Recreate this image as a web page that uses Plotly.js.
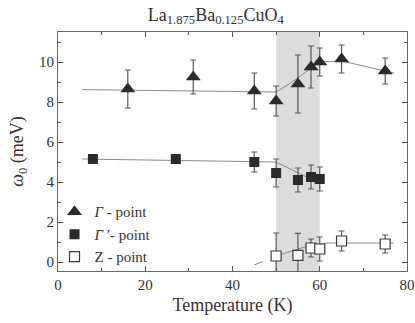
<!DOCTYPE html>
<html>
<head>
<meta charset="utf-8">
<script src="https://cdn.plot.ly/plotly-3.0.1.min.js"></script>
<style>
  body { margin: 0; background: #fff; }
  #chart { width: 415px; height: 323px; }
</style>
</head>
<body>
<div id="chart"></div>
<script>
// Gamma point (triangles)
const gammaT = [16, 31, 45, 50, 55, 58, 60, 65, 75];
const gammaW = [8.65, 9.25, 8.55, 8.05, 8.9, 9.75, 10.0, 10.15, 9.55];
const gammaErr = [0.95, 0.85, 0.9, 0.75, 1.45, 1.05, 0.7, 0.7, 0.65];
const gammaFitT = [5.5, 50, 53, 58, 60, 65, 77];
const gammaFitW = [8.62, 8.5, 8.9, 9.7, 10.0, 10.05, 9.45];

// Gamma' point (filled squares)
const gamma2T = [8, 27, 45, 50, 55, 58, 60];
const gamma2W = [5.15, 5.15, 5.0, 4.45, 4.1, 4.25, 4.15];
const gamma2Err = [0, 0, 0.5, 0.7, 0.6, 0.6, 0.6];
const gamma2FitT = [5.5, 50, 57, 60];
const gamma2FitW = [5.15, 5.0, 4.25, 4.15];

// Z point (open squares)
const zT = [50, 55, 58, 60, 65, 75];
const zW = [0.3, 0.33, 0.7, 0.65, 1.05, 0.9];
const zErr = [1.15, 1.1, 0.45, 0.6, 0.5, 0.45];
const zFitDashT = [45, 50];
const zFitDashW = [-0.15, 0.3];
const zFitT = [50, 58, 62, 77];
const zFitW = [0.3, 0.85, 0.95, 0.95];

const markerColor = '#2b2b2b';
const lineColor = '#8a8a8a';
const errColor = '#5a5a5a';
const serif = 'Liberation Serif';

function fit(x, y, dash) {
  return {
    x: x, y: y, mode: 'lines', type: 'scatter', showlegend: false,
    line: { color: lineColor, width: 1, dash: dash || 'solid' }, hoverinfo: 'skip'
  };
}
function err(arr) {
  return { type: 'data', array: arr, visible: true, color: errColor, thickness: 1.2, width: 3 };
}

const traces = [
  fit(gammaFitT, gammaFitW),
  fit(gamma2FitT, gamma2FitW),
  fit(zFitDashT, zFitDashW, 'dash'),
  fit(zFitT, zFitW),
  {
    x: gammaT, y: gammaW, mode: 'markers', type: 'scatter',
    name: '<i>Γ</i> - point',
    marker: { symbol: 'triangle-up', size: 13, color: markerColor },
    error_y: err(gammaErr)
  },
  {
    x: gamma2T, y: gamma2W, mode: 'markers', type: 'scatter',
    name: '<i>Γ</i> ′- point',
    marker: { symbol: 'square', size: 10, color: markerColor },
    error_y: err(gamma2Err)
  },
  {
    x: zT, y: zW, mode: 'markers', type: 'scatter',
    name: 'Z - point',
    marker: { symbol: 'square', size: 10, color: '#ffffff', line: { color: '#3a3a3a', width: 1.2 } },
    error_y: err(zErr)
  }
];

const layout = {
  width: 415, height: 323,
  margin: { l: 58, r: 8, t: 32, b: 52 },
  paper_bgcolor: '#fff', plot_bgcolor: '#fff',
  font: { family: serif, color: '#333', size: 14 },
  showlegend: true,
  title: {
    text: 'La<sub>1.875</sub>Ba<sub>0.125</sub>CuO<sub>4</sub>',
    font: { family: serif, size: 18, color: '#333' },
    x: 0.52, xanchor: 'center', y: 0.975, yanchor: 'top'
  },
  xaxis: {
    range: [0, 80], tickvals: [0, 20, 40, 60, 80],
    ticks: 'inside', ticklen: 5, tickcolor: '#555', mirror: 'ticks',
    showline: true, linecolor: '#666', linewidth: 1, showgrid: false, zeroline: false,
    minor: { dtick: 10, ticks: 'inside', ticklen: 3, tickcolor: '#555' },
    tickfont: { family: serif, size: 15, color: '#333' },
    title: { text: 'Temperature (K)', font: { family: serif, size: 18, color: '#333' }, standoff: 6 }
  },
  yaxis: {
    range: [-0.45, 11.5], tickvals: [0, 2, 4, 6, 8, 10],
    ticks: 'inside', ticklen: 5, tickcolor: '#555', mirror: 'ticks',
    showline: true, linecolor: '#666', linewidth: 1, showgrid: false, zeroline: false,
    minor: { dtick: 1, ticks: 'inside', ticklen: 3, tickcolor: '#555' },
    tickfont: { family: serif, size: 15, color: '#333' },
    title: { text: '<i>ω</i><sub>0</sub> (meV)', font: { family: serif, size: 18, color: '#333' }, standoff: 10 }
  },
  legend: {
    x: -0.01, y: -0.01, xanchor: 'left', yanchor: 'bottom',
    bgcolor: 'rgba(0,0,0,0)', font: { family: serif, size: 15, color: '#333' },
    itemwidth: 30, tracegroupgap: 0
  },
  shapes: [{
    type: 'rect', xref: 'x', yref: 'paper', x0: 50, x1: 60, y0: 0, y1: 1,
    fillcolor: '#dcdcdc', line: { width: 0 }, layer: 'below'
  }]
};

Plotly.newPlot('chart', traces, layout, { staticPlot: true });
</script>
</body>
</html>
